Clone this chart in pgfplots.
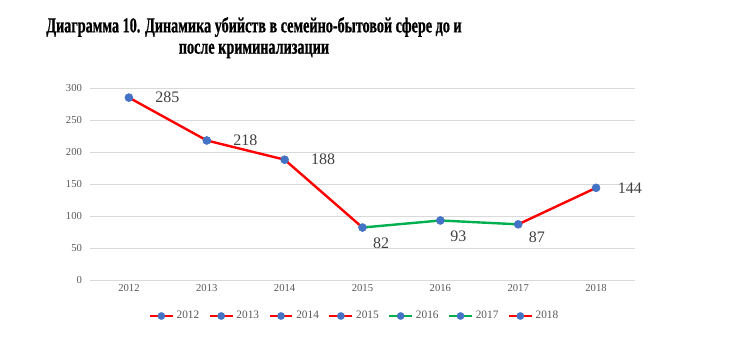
\documentclass[border=0pt]{standalone}
\usepackage{fontspec}
\setmainfont{Liberation Serif}
\newfontfamily\titlefont[FakeStretch=0.665, FakeBold=0.7]{Liberation Serif Bold}
\usepackage{pgfplots}
\pgfplotsset{compat=1.18}
\definecolor{lred}{HTML}{FF0000}
\definecolor{lgreen}{HTML}{00B050}
\definecolor{mblue}{HTML}{4472C4}
\definecolor{gridc}{HTML}{D9D9D9}
\definecolor{tickc}{HTML}{595959}
\definecolor{labc}{HTML}{404040}
\begin{document}
\begin{tikzpicture}
\useasboundingbox (0,0) rectangle (558pt,266.25pt);
\node[align=center, font=\titlefont\fontsize{16}{16}\selectfont, text=black] at (190.5pt,238pt)
  {Диаграмма 10. Динамика убийств в семейно-бытовой сфере до и\\после криминализации};
\begin{axis}[
  at={(67.5pt,56.25pt)}, anchor=south west,
  scale only axis, width=408.75pt, height=144pt,
  xmin=-0.5, xmax=6.5, ymin=0, ymax=300,
  xtick={0,...,6}, xticklabels={2012,2013,2014,2015,2016,2017,2018},
  ytick={0,50,...,300},
  ymajorgrids, grid style={gridc, line width=0.6pt},
  axis x line*=bottom, axis y line*=left,
  x axis line style={gridc, line width=0.6pt, -},
  y axis line style={draw=none},
  major tick length=0pt,
  tick label style={font=\fontsize{8}{9}\selectfont, text=tickc},
  yticklabel style={xshift=-2.5pt},
  /pgf/number format/assume math mode=true,
  clip=false,
  legend columns=7,
  legend style={draw=none, at={(0.486,-0.1875)}, anchor=center,
    font=\fontsize{8.5}{9}\selectfont, text=tickc,
    /tikz/every even column/.append style={column sep=5pt}},
  legend image code/.code={
    \draw[mark repeat=2, mark phase=2, #1] plot coordinates {(0cm,0cm) (0.3cm,0cm) (0.6cm,0cm)};
  },
]
\pgfplotsset{lg/.style={line width=1.8pt, mark=*, mark size=2.8pt, mark options={solid, mblue, draw=mblue, fill=mblue, line width=0.1pt}}}
\addlegendimage{lred, lg}\addlegendentry{2012}
\addlegendimage{lred, lg}\addlegendentry{2013}
\addlegendimage{lred, lg}\addlegendentry{2014}
\addlegendimage{lred, lg}\addlegendentry{2015}
\addlegendimage{lgreen, lg}\addlegendentry{2016}
\addlegendimage{lgreen, lg}\addlegendentry{2017}
\addlegendimage{lred, lg}\addlegendentry{2018}
\addplot[lred, line width=1.8pt, forget plot] coordinates {(0,285) (1,218) (2,188) (3,82)};
\addplot[lgreen, line width=1.8pt, forget plot] coordinates {(3,82) (4,93) (5,87)};
\addplot[lred, line width=1.8pt, forget plot] coordinates {(5,87) (6,144)};
\addplot[only marks, mark=*, mark size=3pt, mblue, fill=mblue, draw=mblue, forget plot] coordinates {(0,285) (1,218) (2,188) (3,82) (4,93) (5,87) (6,144)};
\begin{scope}[every node/.style={font=\fontsize{12}{14}\selectfont, text=labc}]
\node[anchor=west] at (axis cs:0.28,285) {285};
\node[anchor=west] at (axis cs:1.28,218) {218};
\node[anchor=west] at (axis cs:2.28,188) {188};
\node at (axis cs:3.24,58) {82};
\node at (axis cs:4.23,68) {93};
\node at (axis cs:5.24,67) {87};
\node[anchor=west] at (axis cs:6.22,144) {144};
\end{scope}
\end{axis}
\end{tikzpicture}
\end{document}
